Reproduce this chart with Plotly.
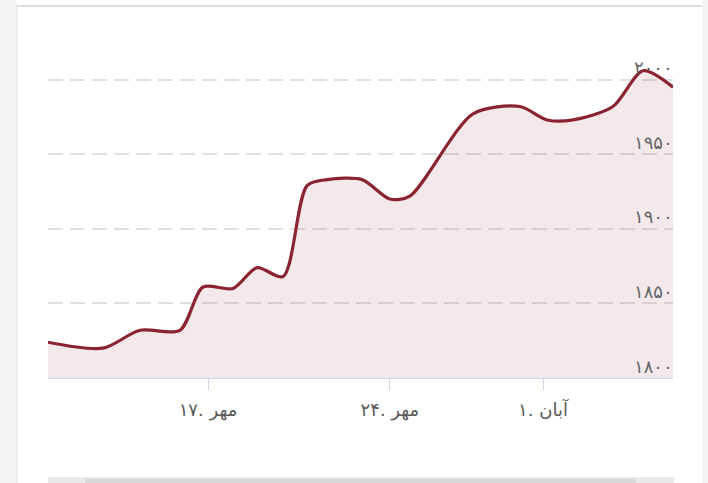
import plotly.graph_objects as go

# position along the time axis (index units) and price
pos = [0, 1.76, 2.94, 4.22, 4.96, 5.92, 6.69, 7.52, 8.29, 8.93,
       10.05, 10.94, 11.58, 13.6, 15.1, 15.97, 16.8, 18.08, 19.04, 20]
price = [1824, 1820, 1832, 1832, 1861, 1860, 1874, 1868, 1929, 1933,
         1933, 1920, 1922, 1977, 1982, 1973, 1973, 1982, 2006, 1995]

x_tick_pos = [5.12, 10.94, 15.84]
x_tick_text = ['مهر .۱۷', 'مهر .۲۴', 'آبان .۱']

y_tick_vals = [1800, 1850, 1900, 1950, 2000]
y_tick_text = ['۱۸۰۰', '۱۸۵۰', '۱۹۰۰', '۱۹۵۰', '۲۰۰۰']

W, H = 708, 483
L, R, T, B = 48, 35, 20, 105


def px_x(v):
    return (v - L) / (W - L - R)


def px_y(v):
    return (H - B - v) / (H - B - T)


f = go.Figure()
f.add_trace(go.Scatter(
    x=pos, y=price, mode='lines', fill='tozeroy',
    fillcolor='rgba(140,42,53,0.10)',
    line=dict(color='#8a2432', width=3.2, shape='spline', smoothing=0.8),
    hoverinfo='skip', showlegend=False
))

# page frame around the chart card
frame = [
    dict(type='rect', x0=px_x(0), x1=px_x(17), y0=px_y(H), y1=px_y(0),
         fillcolor='#f3f3f3', line_width=0),
    dict(type='line', x0=px_x(17), x1=px_x(17), y0=px_y(H), y1=px_y(6),
         line=dict(color='#e4e4e4', width=1)),
    dict(type='rect', x0=px_x(702), x1=px_x(W), y0=px_y(H), y1=px_y(0),
         fillcolor='#f3f3f3', line_width=0),
    dict(type='line', x0=px_x(17), x1=px_x(702), y0=px_y(6), y1=px_y(6),
         line=dict(color='#dcdcdc', width=2)),
    dict(type='rect', x0=px_x(48), x1=px_x(674), y0=px_y(H), y1=px_y(477),
         fillcolor='#e9e9e9', line_width=0),
    dict(type='rect', x0=px_x(85), x1=px_x(636), y0=px_y(H), y1=px_y(479),
         fillcolor='#d8d8d8', line_width=0),
]
for s in frame:
    s.update(xref='paper', yref='paper', layer='below')
    f.add_shape(**s)

# y labels sit just above their grid lines, inside the plot on the right
for v, t in zip(y_tick_vals, y_tick_text):
    f.add_annotation(x=1, xref='paper', y=v, yref='y', text=t, showarrow=False,
                     xanchor='right', yanchor='middle', yshift=12, xshift=2,
                     font=dict(size=18, color='#666666'))

f.update_layout(
    width=W, height=H,
    margin=dict(l=L, r=R, t=T, b=B),
    paper_bgcolor='white', plot_bgcolor='rgba(0,0,0,0)',
    font=dict(family='DejaVu Sans', color='#666666'),
    hovermode=False,
)
f.update_xaxes(
    range=[0, 20], tickmode='array', tickvals=x_tick_pos, ticktext=x_tick_text,
    showgrid=False, zeroline=False,
    showline=True, linecolor='#ccd6eb', linewidth=1,
    ticks='outside', ticklen=11, tickcolor='#ccd6eb', tickwidth=1,
    ticklabelstandoff=4,
    tickfont=dict(size=18, color='#5a5a5a'),
)
f.update_yaxes(
    range=[1800, 2040], tickmode='array', tickvals=y_tick_vals,
    showticklabels=False,
    showgrid=True, gridcolor='#e0e0e0', gridwidth=1.5, griddash='15px,7px',
    zeroline=False, showline=False,
)

f.write_html('out.html', config={'displayModeBar': False},
             post_script="document.body.style.margin='0px';")
